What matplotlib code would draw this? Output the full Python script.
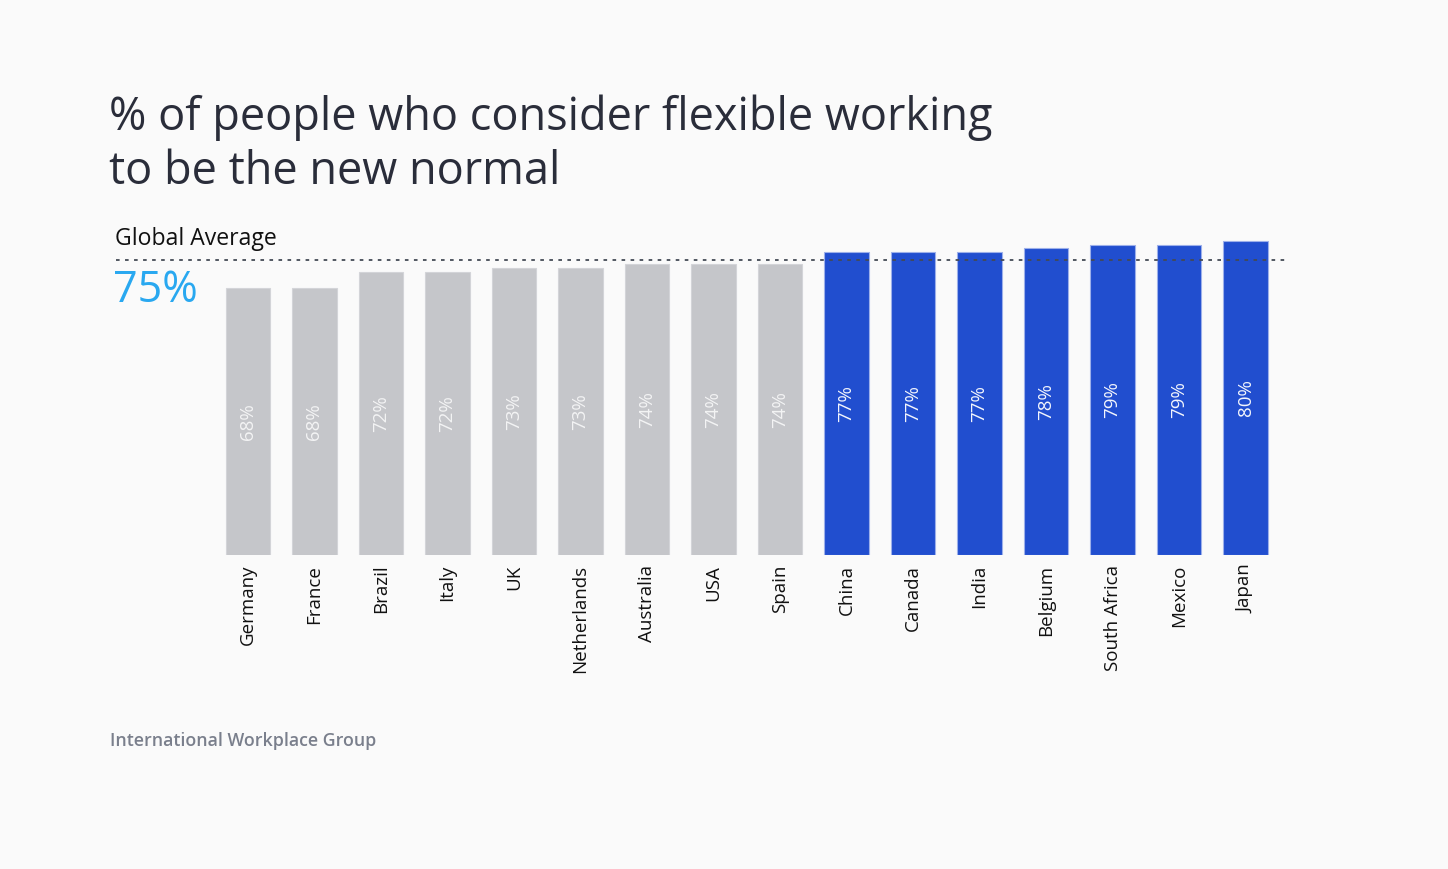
import matplotlib
matplotlib.use("Agg")
import matplotlib.pyplot as plt

countries = ["Germany", "France", "Brazil", "Italy", "UK", "Netherlands", "Australia",
             "USA", "Spain", "China", "Canada", "India", "Belgium", "South Africa",
             "Mexico", "Japan"]
values = [68, 68, 72, 72, 73, 73, 74, 74, 74, 77, 77, 77, 78, 79, 79, 80]
global_average = 75

BG = "#FAFAFA"
GRAY = "#C5C6CA"
BLUE = "#214ECF"
FONT = ["Open Sans", "DejaVu Sans"]

fig = plt.figure(figsize=(14.48, 8.69), dpi=100, facecolor=BG)
W, H = 1448, 869
left, right, bottom, top = 214.75, 1278.75, 555, 162
ax = fig.add_axes([left / W, (H - bottom) / H, (right - left) / W, (bottom - top) / H])
ax.set_facecolor(BG)

colors = [BLUE if v > global_average else GRAY for v in values]
edge = ["#9DB0EA" if v > global_average else "#D3D4D8" for v in values]
x = list(range(len(values)))
ax.bar(x, values, width=0.665, color=colors, edgecolor=edge, linewidth=0.8)
ax.set_xlim(-0.5, len(values) - 0.5)
ax.set_ylim(0, 100)

for xi, v, c in zip(x, values, colors):
    ax.text(xi, v / 2, f"{v}%", rotation=90, ha="center", va="center",
            color="white", alpha=0.95 if c == BLUE else 0.8,
            fontsize=13.5, family=FONT)

ax.set_xticks(x)
ax.set_xticklabels(countries, rotation=90, fontsize=13.5, family=FONT, color="#111111")
ax.tick_params(axis="x", length=0, pad=7)
ax.set_yticks([])
for s in ax.spines.values():
    s.set_visible(False)

xmin = (116 - left) / (right - left)
xmax = (1289 - left) / (right - left)
ax.axhline(global_average, xmin=xmin, xmax=xmax, color="#444a55", linestyle=(0, (2, 3)),
           linewidth=1.3, clip_on=False, zorder=3)

fig.text(109 / W, 1 - 130 / H, "% of people who consider flexible working",
         fontsize=32.5, family=FONT, color="#2a2d3a", va="baseline", ha="left")
fig.text(109 / W, 1 - 184 / H, "to be the new normal",
         fontsize=32.5, family=FONT, color="#2a2d3a", va="baseline", ha="left")
fig.text(115 / W, 1 - 239 / H, "Global Average", fontsize=16.6, family=FONT,
         color="#111111", va="center", ha="left")
fig.text(113 / W, 1 - 291 / H, f"{global_average}%", fontsize=31, family=FONT,
         color="#29A8F0", va="center", ha="left")
fig.text(110 / W, 1 - 741 / H, "International Workplace Group", fontsize=12.75,
         family=FONT, color="#7a7f8c", va="center", ha="left", fontweight="semibold")

fig.savefig("out.png", dpi=100, facecolor=BG)
